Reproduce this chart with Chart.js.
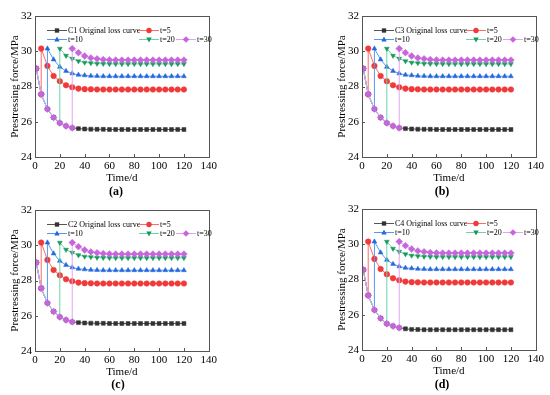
<!DOCTYPE html>
<html>
<head>
<meta charset="utf-8">
<script src="https://cdn.jsdelivr.net/npm/chart.js@4.4.1/dist/chart.umd.min.js"></script>
<style>
  body { margin: 0; background: #fff; width: 550px; height: 395px; position: relative; overflow: hidden; }
  canvas { position: absolute; }
  .lab { position: absolute; font: bold 12px "Liberation Serif", serif; color: #000; transform: translateX(-50%); }
</style>
</head>
<body>
<canvas id="ca" width="220" height="185" style="left:0;top:0"></canvas>
<canvas id="cb" width="220" height="185" style="left:327px;top:0"></canvas>
<canvas id="cc" width="220" height="185" style="left:0;top:194px"></canvas>
<canvas id="cd" width="220" height="185" style="left:327px;top:193px"></canvas>
<div class="lab" style="left:116px;top:184px">(a)</div>
<div class="lab" style="left:442px;top:184px">(b)</div>
<div class="lab" style="left:118px;top:377px">(c)</div>
<div class="lab" style="left:442px;top:377px">(d)</div>
<script>
// days of measurement
const days = [1, 5, 10, 15, 20, 25, 30, 35, 40, 45, 50, 55, 60, 65, 70, 75, 80, 85, 90, 95, 100, 105, 110, 115, 120];

// original loss curves
const origC1 = [29.02, 27.56, 26.72, 26.24, 25.93, 25.76, 25.65, 25.61, 25.59, 25.58, 25.57, 25.57, 25.56, 25.56, 25.56, 25.56, 25.56, 25.56, 25.56, 25.56, 25.56, 25.56, 25.56, 25.56, 25.56];
const origC3 = origC1;
const origC2 = origC1;
const origC4 = [28.55, 27.10, 26.27, 25.80, 25.49, 25.36, 25.26, 25.20, 25.17, 25.16, 25.15, 25.15, 25.15, 25.15, 25.15, 25.15, 25.15, 25.15, 25.15, 25.15, 25.15, 25.15, 25.15, 25.15, 25.15];

// re-tensioning curves, values from day t onward
const reload5 = [30.15, 29.17, 28.60, 28.30, 28.07, 27.96, 27.88, 27.85, 27.84, 27.83, 27.83, 27.83, 27.83, 27.83, 27.83, 27.83, 27.83, 27.83, 27.83, 27.83, 27.83, 27.83, 27.83, 27.83];
const reload10 = [30.15, 29.53, 29.11, 28.88, 28.74, 28.66, 28.63, 28.60, 28.59, 28.58, 28.58, 28.58, 28.58, 28.58, 28.58, 28.58, 28.58, 28.58, 28.58, 28.58, 28.58, 28.58, 28.58];
const reload20 = [30.15, 29.75, 29.58, 29.44, 29.36, 29.33, 29.30, 29.29, 29.28, 29.28, 29.28, 29.28, 29.28, 29.28, 29.28, 29.28, 29.28, 29.28, 29.28, 29.28, 29.28];
const reload30 = [30.15, 29.92, 29.73, 29.62, 29.57, 29.53, 29.51, 29.50, 29.50, 29.50, 29.50, 29.50, 29.50, 29.50, 29.50, 29.50, 29.50, 29.50, 29.50];

const tValues = [5, 10, 20, 30];
const reloads = [reload5, reload10, reload20, reload30];
const xTicks = [0, 20, 40, 60, 80, 100, 120, 140];
const yTicks = [24, 26, 28, 30, 32];

const styles = [
  { line: '#555555', fill: '#333333', shape: 'rect', rot: 0 },
  { line: '#ff6a6a', fill: '#f03a3a', shape: 'circle', rot: 0 },
  { line: '#5a96ee', fill: '#2468dc', shape: 'triangle', rot: 0 },
  { line: '#6dd4aa', fill: '#179a5c', shape: 'triangle', rot: 180 },
  { line: '#e2a4f2', fill: '#c765dd', shape: 'rectRot', rot: 0 }
];

function buildSets(orig, name) {
  const sets = [];
  sets.push({ label: name + ' Original loss curve', data: days.map((d, i) => ({ x: d, y: orig[i] })) });
  tValues.forEach((t, k) => {
    const pts = [];
    days.forEach((d, i) => { if (d <= t) pts.push({ x: d, y: orig[i] }); });
    days.filter(d => d >= t).forEach((d, i) => pts.push({ x: d, y: reloads[k][i] }));
    sets.push({ label: 't=' + t, data: pts });
  });
  return sets.map((s, i) => Object.assign(s, {
    borderColor: styles[i].line,
    backgroundColor: styles[i].fill,
    pointBackgroundColor: styles[i].fill,
    pointBorderColor: styles[i].fill,
    pointStyle: styles[i].shape,
    pointRotation: styles[i].rot,
    pointRadius: styles[i].shape === 'rectRot' ? 3.4 : 2.8,
    pointBorderWidth: 0.5,
    borderWidth: 1,
    tension: 0,
    order: 5 - i
  }));
}

function marker(ctx, st, x, y) {
  const r = 2.7;
  ctx.fillStyle = st.fill;
  ctx.beginPath();
  if (st.shape === 'rect') {
    ctx.rect(x - r * 0.8, y - r * 0.8, r * 1.6, r * 1.6);
  } else if (st.shape === 'circle') {
    ctx.arc(x, y, r, 0, Math.PI * 2);
  } else if (st.shape === 'triangle' && st.rot === 0) {
    ctx.moveTo(x, y - r * 1.1); ctx.lineTo(x + r, y + r * 0.7); ctx.lineTo(x - r, y + r * 0.7);
  } else if (st.shape === 'triangle') {
    ctx.moveTo(x, y + r * 1.1); ctx.lineTo(x + r, y - r * 0.7); ctx.lineTo(x - r, y - r * 0.7);
  } else {
    ctx.moveTo(x, y - 3.3); ctx.lineTo(x + 3.3, y); ctx.lineTo(x, y + 3.3); ctx.lineTo(x - 3.3, y);
  }
  ctx.closePath();
  ctx.fill();
}

// Origin style frame, inward ticks and in-plot legend
const framePlugin = {
  id: 'frame',
  afterDatasetsDraw(chart) {
    const { ctx, chartArea: a, scales } = chart;
    ctx.save();
    ctx.strokeStyle = '#555';
    ctx.lineWidth = 1;
    ctx.strokeRect(Math.round(a.left) + 0.5, Math.round(a.top) + 0.5, Math.round(a.right - a.left), Math.round(a.bottom - a.top));
    ctx.beginPath();
    xTicks.forEach(v => {
      const px = Math.round(scales.x.getPixelForValue(v)) + 0.5;
      ctx.moveTo(px, a.bottom); ctx.lineTo(px, a.bottom - 3);
    });
    yTicks.forEach(v => {
      const py = Math.round(scales.y.getPixelForValue(v)) + 0.5;
      ctx.moveTo(a.left, py); ctx.lineTo(a.left + 3, py);
    });
    ctx.stroke();

    const pos = [[12, 14, 33], [104, 14, 125], [12, 23, 33], [104, 23, 125], [141, 23, 162]];
    ctx.font = '8px "Liberation Serif", serif';
    ctx.textBaseline = 'middle';
    chart.data.datasets.forEach((ds, i) => {
      const x0 = a.left + pos[i][0], y = a.top + pos[i][1];
      const st = styles[i];
      ctx.strokeStyle = st.line;
      ctx.beginPath(); ctx.moveTo(x0, y + 0.5); ctx.lineTo(x0 + 20, y + 0.5); ctx.stroke();
      marker(ctx, st, x0 + 10, y + 0.5);
      ctx.fillStyle = '#000';
      ctx.fillText(ds.label, a.left + pos[i][2], y + 0.5);
    });
    ctx.restore();
  }
};

function makeChart(id, orig, name) {
  new Chart(document.getElementById(id), {
    type: 'line',
    data: { datasets: buildSets(orig, name) },
    plugins: [framePlugin],
    options: {
      responsive: false,
      animation: false,
      layout: { padding: { top: 16, left: 0, right: 10, bottom: 0 } },
      plugins: { legend: { display: false }, tooltip: { enabled: false } },
      scales: {
        x: {
          type: 'linear', min: 0, max: 140,
          afterFit: s => { s.height = 28; },
          afterBuildTicks: s => { s.ticks = xTicks.map(v => ({ value: v })); },
          grid: { display: false, drawTicks: false }, border: { display: false },
          ticks: { color: '#000', padding: 3, maxRotation: 0, font: { family: 'Liberation Serif', size: 11 } },
          title: { display: true, text: 'Time/d', color: '#000', padding: { top: 6, bottom: 0 }, font: { family: 'Liberation Serif', size: 11 } }
        },
        y: {
          min: 24, max: 32,
          afterFit: s => { s.width = 35; },
          afterBuildTicks: s => { s.ticks = yTicks.map(v => ({ value: v })); },
          grid: { display: false, drawTicks: false }, border: { display: false },
          ticks: { color: '#000', padding: 3, font: { family: 'Liberation Serif', size: 11 } },
          title: { display: true, text: 'Prestressing force/MPa', color: '#000', padding: { top: 9, bottom: 0 }, font: { family: 'Liberation Serif', size: 11 } }
        }
      }
    }
  });
}

makeChart('ca', origC1, 'C1');
makeChart('cb', origC3, 'C3');
makeChart('cc', origC2, 'C2');
makeChart('cd', origC4, 'C4');
</script>
</body>
</html>
